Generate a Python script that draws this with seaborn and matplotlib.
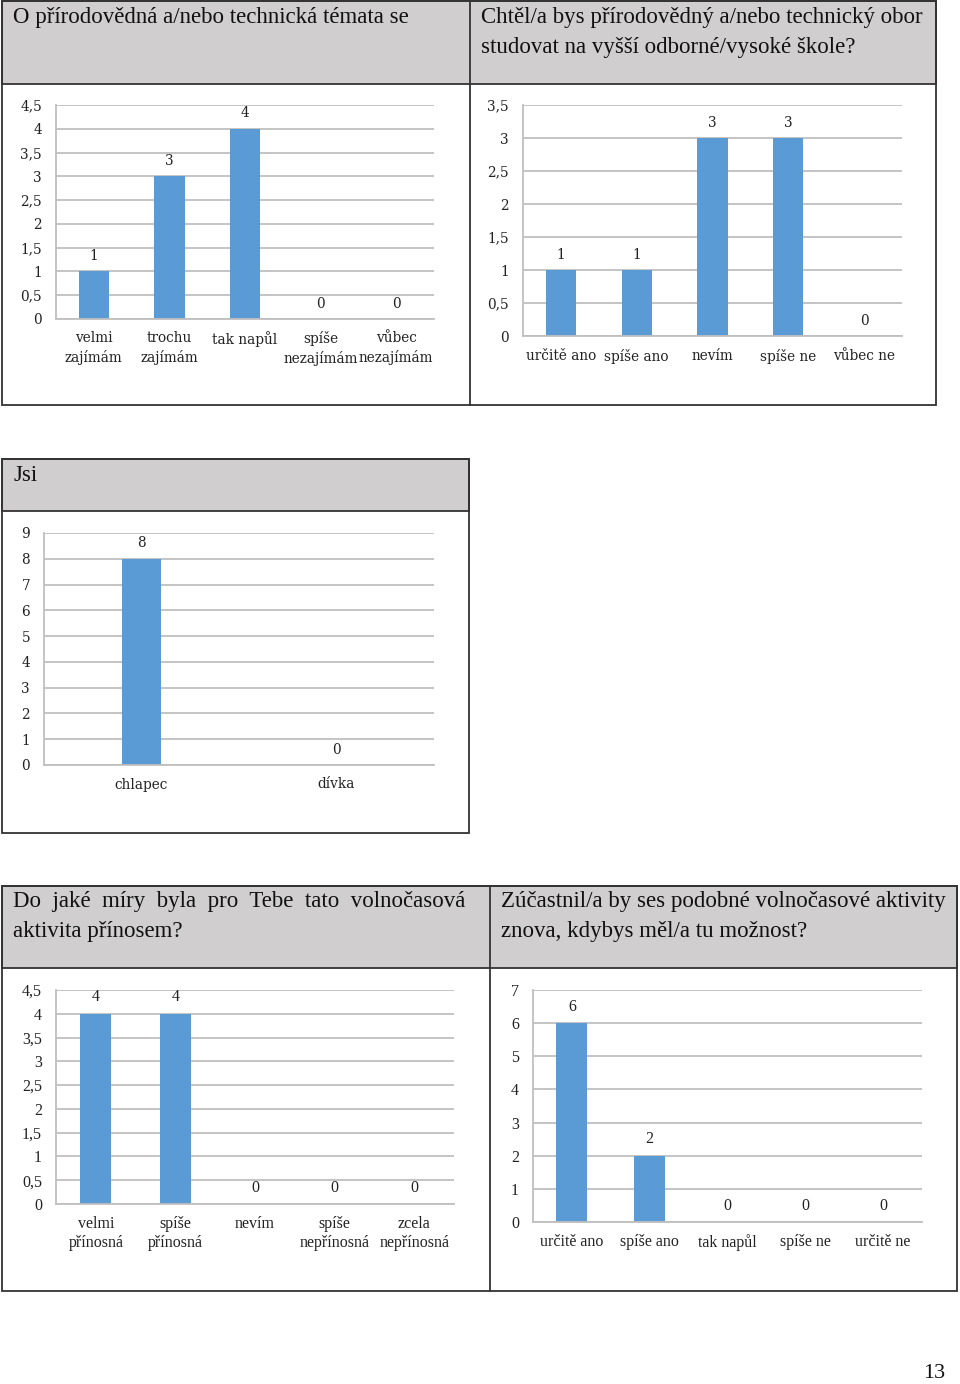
import pandas as pd
import seaborn as sns
import matplotlib.pyplot as plt
from matplotlib.patches import Rectangle
from matplotlib.ticker import MultipleLocator, FuncFormatter

# chart data
zajem_cats = ['velmi\nzajímám', 'trochu\nzajímám', 'tak napůl', 'spíše\nnezajímám', 'vůbec\nnezajímám']
zajem_vals = [1, 3, 4, 0, 0]

studium_cats = ['určitě ano', 'spíše ano', 'nevím', 'spíše ne', 'vůbec ne']
studium_vals = [1, 1, 3, 3, 0]

pohlavi_cats = ['chlapec', 'dívka']
pohlavi_vals = [8, 0]

prinos_cats = ['velmi\npřínosná', 'spíše\npřínosná', 'nevím', 'spíše\nnepřínosná', 'zcela\nnepřínosná']
prinos_vals = [4, 4, 0, 0, 0]

znovu_cats = ['určitě ano', 'spíše ano', 'tak napůl', 'spíše ne', 'určitě ne']
znovu_vals = [6, 2, 0, 0, 0]

sns.set_style('white')
plt.rcParams['font.family'] = ['DejaVu Serif']

W, H = 960, 1384
BLUE = '#5B9BD5'
GRID = '#BFBFBF'
HEAD = '#D0CECE'

fig = plt.figure(figsize=(W / 100, H / 100), dpi=100)


def box(x0, y0, x1, y1, fc='none'):
    fig.add_artist(Rectangle((x0 / W, 1 - y1 / H), (x1 - x0) / W, (y1 - y0) / H,
                             transform=fig.transFigure, fc=fc, ec='#333333', lw=1.3))


def vline(x, y0, y1):
    fig.add_artist(plt.Line2D([x / W, x / W], [1 - y0 / H, 1 - y1 / H],
                              transform=fig.transFigure, color='#333333', lw=1.3))


def header(x, y, txt, size=16.5):
    fig.text(x / W, 1 - y / H, txt, ha='left', va='top', fontsize=size,
             family='Liberation Serif', color='#111111', linespacing=1.55)


def chart(x0, y0, x1, y1, cats, vals, ymax, step, width, font='DejaVu Serif', fs=9.8, ls=1.4):
    ax = fig.add_axes([x0 / W, 1 - y1 / H, (x1 - x0) / W, (y1 - y0) / H])
    df = pd.DataFrame({'cat': cats, 'val': vals})
    sns.barplot(data=df, x='cat', y='val', color=BLUE, width=width, saturation=1,
                linewidth=0, ax=ax)
    ax.set_ylim(0, ymax)
    ax.set_xlim(-0.5, len(cats) - 0.5)
    ax.yaxis.set_major_locator(MultipleLocator(step))
    ax.yaxis.set_major_formatter(FuncFormatter(
        lambda v, p: ('%g' % v).replace('.', ',')))
    ax.yaxis.grid(True, color=GRID, lw=1.3)
    ax.set_axisbelow(True)
    for s in ['top', 'right']:
        ax.spines[s].set_visible(False)
    for s in ['left', 'bottom']:
        ax.spines[s].set_color(GRID)
        ax.spines[s].set_linewidth(1.3)
    ax.tick_params(axis='both', length=0, labelsize=fs, colors='#222222')
    ax.tick_params(axis='y', pad=10)
    ax.tick_params(axis='x', pad=9)
    for lab in ax.get_xticklabels() + ax.get_yticklabels():
        lab.set_family(font)
    for lab in ax.get_xticklabels():
        lab.set_linespacing(ls)
    ax.set_xlabel('')
    ax.set_ylabel('')
    ax.bar_label(ax.containers[0], labels=[str(v) for v in vals], padding=6,
                 fontsize=fs, family=font, color='#222222')
    return ax


# table 1
box(2, 1, 936, 84, HEAD)
box(2, 1, 936, 405)
vline(470, 1, 405)
header(13, 7, 'O přírodovědná a/nebo technická témata se')
header(481, 7, 'Chtěl/a bys přírodovědný a/nebo technický obor\nstudovat na vyšší odborné/vysoké škole?')
chart(56, 105, 434, 319, zajem_cats, zajem_vals, 4.5, 0.5, 0.4)
chart(523, 105, 902, 336, studium_cats, studium_vals, 3.5, 0.5, 0.4)

# table 2
box(2, 459, 469, 511, HEAD)
box(2, 459, 469, 833)
header(13, 465, 'Jsi')
chart(44, 533, 434, 765, pohlavi_cats, pohlavi_vals, 9, 1, 0.2)

# table 3
box(2, 886, 957, 968, HEAD)
box(2, 886, 957, 1291)
vline(490, 886, 1291)
header(13, 891, 'Do  jaké  míry  byla  pro  Tebe  tato  volnočasová\naktivita přínosem?')
header(501, 891, 'Zúčastnil/a by ses podobné volnočasové aktivity\nznova, kdybys měl/a tu možnost?')
chart(56, 990, 454, 1204, prinos_cats, prinos_vals, 4.5, 0.5, 0.39, 'Liberation Serif', 11.5, 1.2)
chart(533, 990, 922, 1222, znovu_cats, znovu_vals, 7, 1, 0.4, 'Liberation Serif', 11.5, 1.2)

fig.text(945 / W, 1 - 1374 / H, '13', ha='right', va='center', fontsize=16,
         family='Liberation Serif', color='#111111')

fig.savefig('out.png', dpi=100)
